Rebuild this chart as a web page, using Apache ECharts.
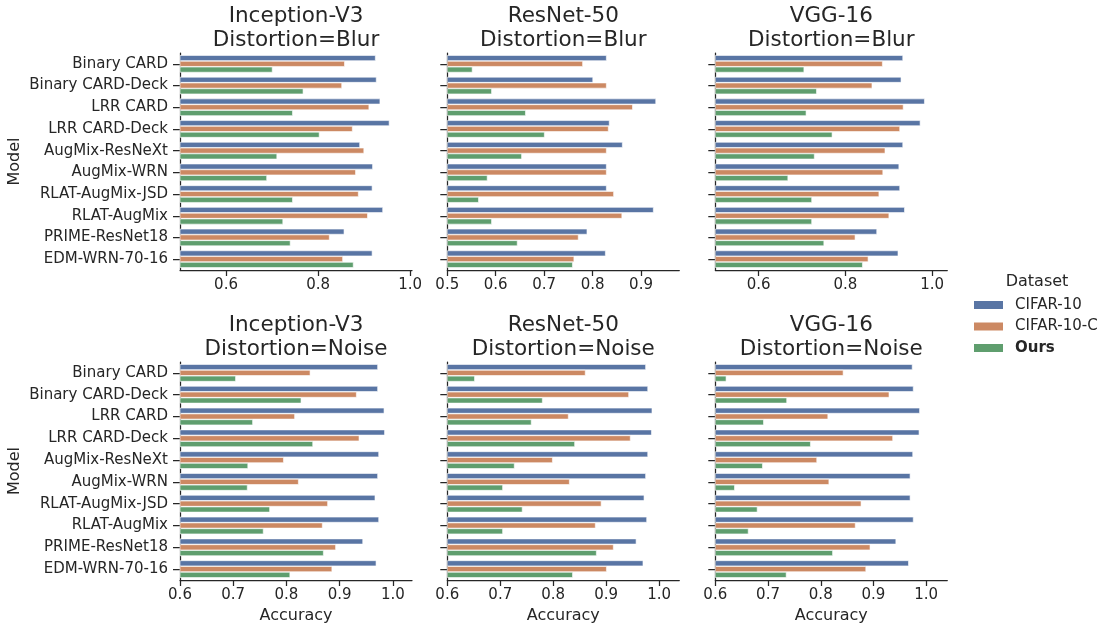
<!DOCTYPE html>
<html>
<head>
<meta charset="utf-8">
<script src="https://cdn.jsdelivr.net/npm/echarts@6/dist/echarts.min.js"></script>
<style>
html,body{margin:0;padding:0;background:#fff;}
#chart{width:1102px;height:629px;}
</style>
</head>
<body>
<div id="chart"></div>
<script>
const models = ['Binary CARD','Binary CARD-Deck','LRR CARD','LRR CARD-Deck','AugMix-ResNeXt','AugMix-WRN','RLAT-AugMix-JSD','RLAT-AugMix','PRIME-ResNet18','EDM-WRN-70-16'];
const datasets = ['CIFAR-10','CIFAR-10-C','Ours'];
const architectures = ['Inception-V3','ResNet-50','VGG-16'];
const distortions = ['Blur','Noise'];

// Blur
const incBlurC10  = [0.925,0.927,0.935,0.955,0.891,0.919,0.918,0.941,0.857,0.918];
const incBlurC10C = [0.858,0.852,0.911,0.875,0.900,0.882,0.888,0.908,0.825,0.854];
const incBlurOurs = [0.701,0.768,0.745,0.803,0.711,0.689,0.745,0.724,0.740,0.877];
const resBlurC10  = [0.829,0.801,0.931,0.835,0.862,0.829,0.829,0.926,0.789,0.827];
const resBlurC10C = [0.780,0.829,0.883,0.833,0.829,0.829,0.844,0.861,0.771,0.762];
const resBlurOurs = [0.552,0.592,0.662,0.701,0.654,0.583,0.565,0.592,0.645,0.759];
const vggBlurC10  = [0.933,0.929,0.983,0.973,0.933,0.924,0.926,0.937,0.873,0.922];
const vggBlurC10C = [0.886,0.862,0.934,0.926,0.892,0.887,0.878,0.901,0.823,0.853];
const vggBlurOurs = [0.705,0.734,0.710,0.770,0.729,0.668,0.723,0.723,0.751,0.840];
// Noise
const incNoiseC10  = [0.972,0.972,0.984,0.985,0.974,0.972,0.967,0.974,0.944,0.969];
const incNoiseC10C = [0.845,0.932,0.816,0.937,0.795,0.823,0.878,0.868,0.893,0.886];
const incNoiseOurs = [0.705,0.828,0.737,0.850,0.728,0.727,0.769,0.757,0.870,0.807];
const resNoiseC10  = [0.975,0.979,0.987,0.986,0.979,0.975,0.972,0.977,0.957,0.970];
const resNoiseC10C = [0.861,0.943,0.829,0.946,0.799,0.831,0.891,0.880,0.914,0.901];
const resNoiseOurs = [0.652,0.780,0.759,0.841,0.727,0.705,0.742,0.705,0.882,0.837];
const vggNoiseC10  = [0.974,0.976,0.988,0.987,0.975,0.970,0.970,0.976,0.943,0.967];
const vggNoiseC10C = [0.843,0.930,0.814,0.937,0.793,0.816,0.877,0.866,0.894,0.886];
const vggNoiseOurs = [0.621,0.736,0.692,0.781,0.690,0.637,0.680,0.663,0.823,0.735];

// tick labels per panel
const ticksWide = [0.6,0.8,1.0];
const ticksResBlur = [0.5,0.6,0.7,0.8,0.9];
const ticksNoise = [0.6,0.7,0.8,0.9,1.0];

const panelData = [
  [incBlurC10,incBlurC10C,incBlurOurs],
  [resBlurC10,resBlurC10C,resBlurOurs],
  [vggBlurC10,vggBlurC10C,vggBlurOurs],
  [incNoiseC10,incNoiseC10C,incNoiseOurs],
  [resNoiseC10,resNoiseC10C,resNoiseOurs],
  [vggNoiseC10,vggNoiseC10C,vggNoiseOurs]
];
const panelTicks = [ticksWide,ticksResBlur,ticksWide,ticksNoise,ticksNoise,ticksNoise];
const panelMin = [0.5,0.5,0.5,0.6,0.6,0.6];
const panelMax = [1.004,0.979,1.035,1.036,1.038,1.040];

const colors = ['#5975A4','#CC8963','#5F9E6E'];
const FONT = 'DejaVu Sans';
const INK = '#262626';

const lefts = [180,447.3,715.3];
const width = 232;
const tops = [53,362];
const heights = [217,218];

const grids=[],xAxes=[],yAxes=[],series=[],graphics=[];
for(let p=0;p<6;p++){
  const r=Math.floor(p/3), c=p%3;
  grids.push({left:lefts[c],top:tops[r],width:width,height:heights[r],containLabel:false});
  xAxes.push({
    type:'value',gridIndex:p,min:panelMin[p],max:panelMax[p],
    axisLine:{show:true,lineStyle:{color:INK,width:1.25}},
    axisTick:{show:true,length:6,lineStyle:{color:INK,width:1.25},customValues:panelTicks[p]},
    axisLabel:{show:true,color:INK,fontFamily:FONT,fontSize:15,margin:8,customValues:panelTicks[p],
      formatter:v=>Number(v).toFixed(1)},
    splitLine:{show:false}
  });
  yAxes.push({
    type:'category',gridIndex:p,data:models,inverse:true,
    axisLine:{show:true,lineStyle:{color:INK,width:1.25}},
    axisTick:{show:true,alignWithLabel:true,length:7,lineStyle:{color:INK,width:1.25}},
    axisLabel:{show:c===0,color:INK,fontFamily:FONT,fontSize:15,margin:12,interval:0},
    splitLine:{show:false}
  });
  for(let s=0;s<3;s++){
    series.push({
      type:'bar',name:datasets[s],xAxisIndex:p,yAxisIndex:p,data:panelData[p][s],
      itemStyle:{color:colors[s],borderColor:'#ffffff',borderWidth:0.6},barCategoryGap:'20%',barGap:'0%',
      emphasis:{disabled:true},animation:false
    });
  }
  const cx = lefts[c]+width/2;
  const ty = r===0?16:325;
  graphics.push({type:'text',x:cx,y:ty,style:{text:architectures[c],font:'21.5px "DejaVu Sans"',fill:INK,textAlign:'center',textVerticalAlign:'middle'}});
  graphics.push({type:'text',x:cx,y:ty+24.5,style:{text:'Distortion='+distortions[r],font:'21.5px "DejaVu Sans"',fill:INK,textAlign:'center',textVerticalAlign:'middle'}});
  if(r===1){
    graphics.push({type:'text',x:cx,y:616,style:{text:'Accuracy',font:'16px "DejaVu Sans"',fill:INK,textAlign:'center',textVerticalAlign:'middle'}});
  }
}
graphics.push({type:'text',x:15,y:53+217/2,rotation:Math.PI/2,style:{text:'Model',font:'16px "DejaVu Sans"',fill:INK,textAlign:'center',textVerticalAlign:'middle'}});
graphics.push({type:'text',x:15,y:362+218/2,rotation:Math.PI/2,style:{text:'Model',font:'16px "DejaVu Sans"',fill:INK,textAlign:'center',textVerticalAlign:'middle'}});
graphics.push({type:'text',x:1037,y:282,style:{text:'Dataset',font:'16px "DejaVu Sans"',fill:INK,textAlign:'center',textVerticalAlign:'middle'}});

const chart = echarts.init(document.getElementById('chart'),null,{renderer:'canvas'});
chart.setOption({
  animation:false,
  backgroundColor:'#ffffff',
  grid:grids,xAxis:xAxes,yAxis:yAxes,series:series,
  legend:{
    data:datasets,orient:'vertical',left:974,top:297.5,padding:0,
    icon:'rect',itemWidth:29,itemHeight:8,itemGap:6.5,
    itemStyle:{borderWidth:0},
    textStyle:{color:INK,fontFamily:FONT,fontSize:15,lineHeight:15,padding:[0,0,0,7],
      rich:{b:{fontWeight:'bold',fontFamily:FONT,fontSize:15,lineHeight:15,color:INK}}},
    formatter:n=>n==='Ours'?'{b|Ours}':n
  },
  graphic:graphics
});
</script>
</body>
</html>
